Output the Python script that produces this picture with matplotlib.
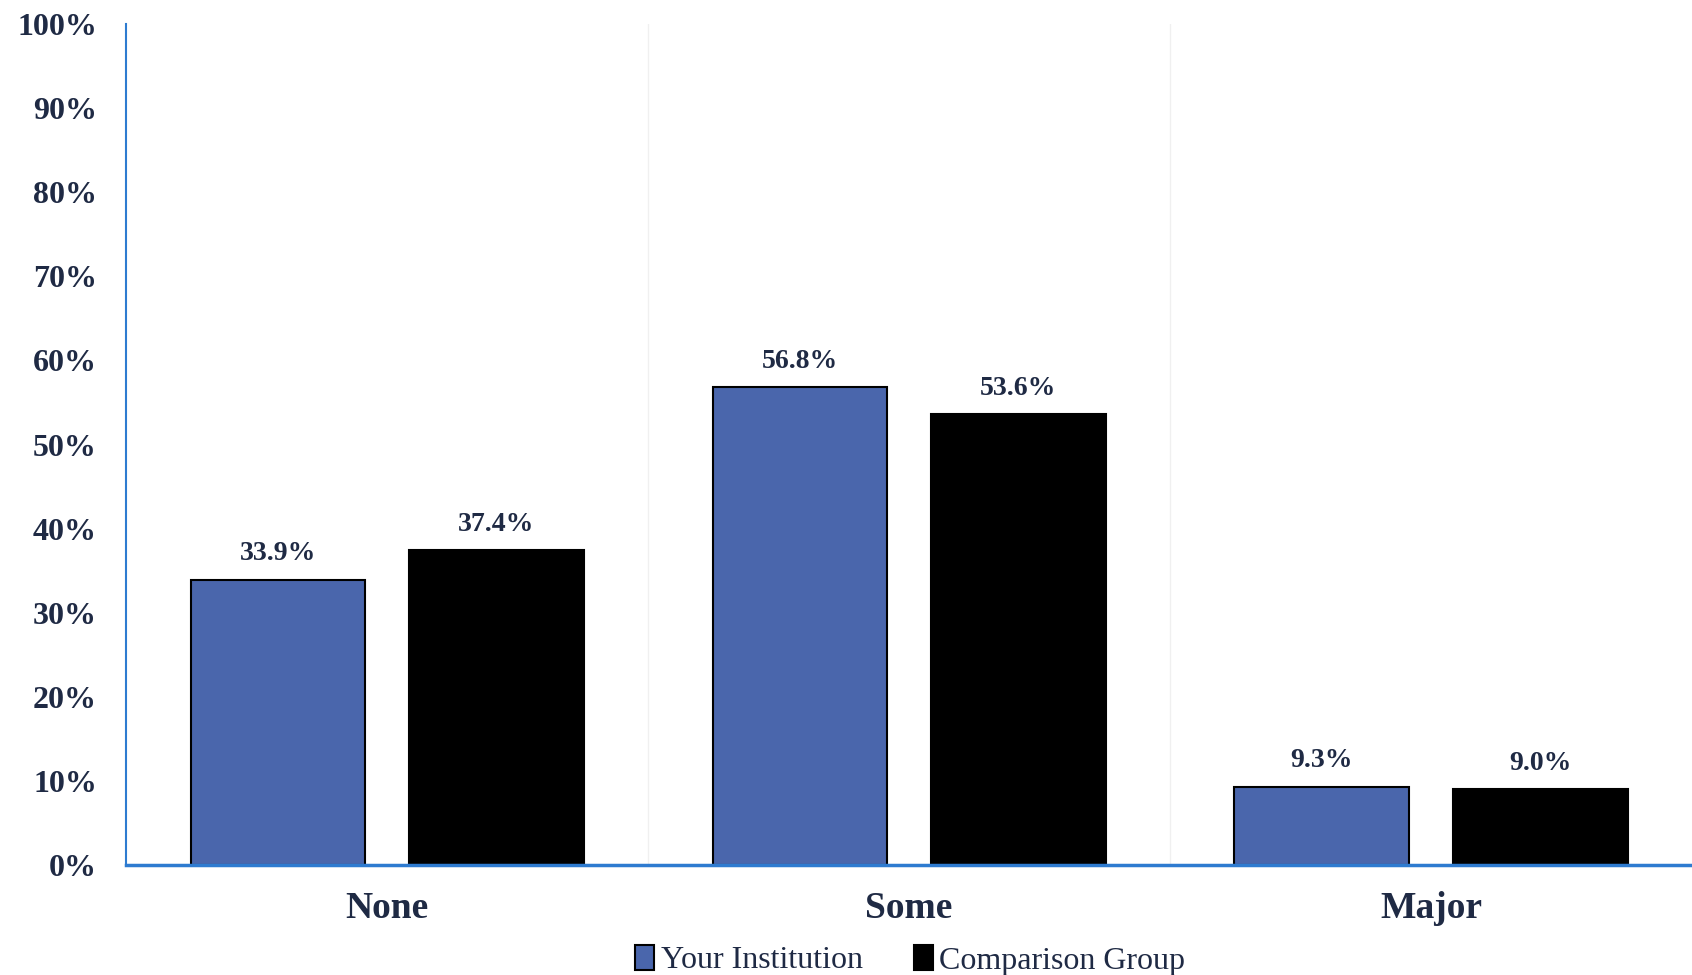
import matplotlib.pyplot as plt
import numpy as np

categories = ['None', 'Some', 'Major']
your_inst = [33.9, 56.8, 9.3]
comparison = [37.4, 53.6, 9.0]
series_names = ['Your Institution', 'Comparison Group']
yticks = list(range(0, 101, 10))

txt = '#1F2A44'
blue = '#4A66AC'
spine_blue = '#2E7BD0'

plt.rcParams['font.family'] = ['Liberation Serif', 'DejaVu Serif']

fig = plt.figure(figsize=(16.92, 9.75), dpi=100)
ax = fig.add_axes([0.0745, 0.1128, 0.9255, 0.8626])

x = np.arange(len(categories))
w = 0.335
off = 0.209
b1 = ax.bar(x - off, your_inst, w, color=blue, edgecolor='black', linewidth=1.5, label=series_names[0])
b2 = ax.bar(x + off, comparison, w, color='black', edgecolor='black', linewidth=1.5, label=series_names[1])

for bars, vals in ((b1, your_inst), (b2, comparison)):
    for r, v in zip(bars, vals):
        ax.text(r.get_x() + r.get_width() / 2, v + 1.6, f'{v:.1f}%', ha='center', va='bottom',
                fontsize=20, fontweight='bold', color=txt)

ax.set_xlim(-0.5, 2.5)
ax.set_ylim(0, 100)
ax.set_yticks(yticks)
ax.set_yticklabels([f'{t}%' for t in yticks], fontsize=23, fontweight='bold', color=txt)
ax.set_xticks(x)
ax.set_xticklabels(categories, fontsize=27, fontweight='bold', color=txt)
ax.tick_params(axis='both', length=0)
ax.tick_params(axis='x', pad=19)
ax.tick_params(axis='y', pad=21)

for b in (0.5, 1.5):
    ax.axvline(b, color='#F0F0F0', linewidth=1, zorder=0)

for s in ('top', 'right'):
    ax.spines[s].set_visible(False)
ax.spines['left'].set_color(spine_blue)
ax.spines['left'].set_linewidth(1.5)
ax.spines['bottom'].set_color(spine_blue)
ax.spines['bottom'].set_linewidth(2.5)

leg = fig.legend(loc='lower center', bbox_to_anchor=(0.538, -0.03), ncol=2, frameon=False,
                 fontsize=23, handlelength=0.6, handleheight=0.8, handletextpad=0.2, columnspacing=1.6)
for t in leg.get_texts():
    t.set_color(txt)

fig.savefig('out.png', dpi=100)
